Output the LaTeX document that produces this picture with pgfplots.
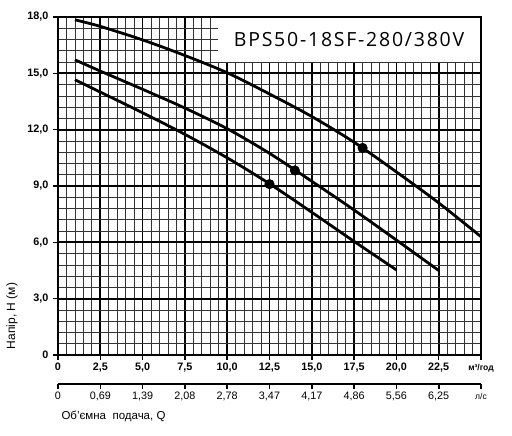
\documentclass[border=0pt]{standalone}
\usepackage{fontspec}
\setmainfont{Liberation Sans}
\newfontfamily\titlefont[LetterSpace=9]{Open Sans}
\usepackage{pgfplots}
\pgfplotsset{compat=1.18}

\begin{document}
\begin{tikzpicture}[x=1pt,y=1pt]
\useasboundingbox (0,0) rectangle (512,436);
\begin{axis}[
  at={(58pt,81pt)}, anchor=south west,
  scale only axis, width=423pt, height=338pt,
  xmin=0, xmax=25, ymin=0, ymax=18,
  xtick={0,2.5,5,7.5,10,12.5,15,17.5,20,22.5,25},
  ytick={0,3,6,9,12,15,18},
  minor xtick={0.5,1,1.5,2,3,3.5,4,4.5,5.5,6,6.5,7,8,8.5,9,9.5,10.5,11,11.5,12,13,13.5,14,14.5,15.5,16,16.5,17,18,18.5,19,19.5,20.5,21,21.5,22,23,23.5,24,24.5},
  minor ytick={0.6,1.2,1.8,2.4,3.6,4.2,4.8,5.4,6.6,7.2,7.8,8.4,9.6,10.2,10.8,11.4,12.6,13.2,13.8,14.4,15.6,16.2,16.8,17.4},
  xticklabels={0,{2,5},{5,0},{7,5},{10,0},{12,5},{15,0},{17,5},{20,0},{22,5},{\fontsize{8.5}{9}\selectfont м³/год}},
  yticklabels={0,{3,0},{6,0},{9,0},{12,0},{15,0},{18,0}},
  grid=both,
  major grid style={black, line width=1.7pt},
  minor grid style={black!80, line width=0.7pt},
  tick pos=left, tick align=outside,
  major tick length=5pt, minor tick length=0pt,
  tick style={black, line width=1.5pt},
  axis line style={black, line width=1.3pt},
  tick label style={font=\fontsize{10.8}{12}\selectfont\bfseries},
  xticklabel style={anchor=north, text height=8pt, text depth=2pt, yshift=1pt},
  yticklabel style={xshift=-1pt},
  clip=false,
]
\addplot[black, line width=2.8pt, smooth] coordinates {
  (1,17.85) (2.5,17.5) (5,16.78) (7.5,15.95) (10,15.03) (12.5,13.9)
  (15,12.7) (17.5,11.33) (20,9.75) (22.5,8.1) (25,6.3)};
\addplot[black, line width=2.8pt, smooth] coordinates {
  (1,15.72) (2.5,15.12) (5,14.15) (7.5,13.15) (10,12.05) (12.5,10.74)
  (15,9.25) (17.5,7.72) (20,6.12) (22.5,4.5)};
\addplot[black, line width=2.8pt, smooth] coordinates {
  (1,14.66) (2.5,14.0) (5,12.9) (7.5,11.75) (10,10.5) (12.5,9.12)
  (15,7.6) (17.5,6.05) (20,4.53)};
\addplot[only marks, mark=*, mark size=4.8pt, black] coordinates {
  (18,11.03) (14,9.83) (12.5,9.1)};
\fill[white] (axis cs:9.46,15.62) rectangle (axis cs:25,18);
\draw[black, line width=1.3pt] (axis cs:9.46,18) -- (axis cs:25,18) -- (axis cs:25,15.62);
\draw[black, line width=2.4pt] (axis cs:0,18) -- (axis cs:0,0) -- (axis cs:25,0);
\node[font=\titlefont\fontsize{19.5}{22}\selectfont] at (axis cs:17.2,16.79) {BPS50-18SF-280/380V};
\end{axis}
\begin{axis}[
  at={(58pt,52pt)}, anchor=south west,
  scale only axis, width=423pt, height=10pt,
  xmin=0, xmax=25, ymin=0, ymax=1,
  axis x line*=bottom, hide y axis,
  x axis line style={-, black, line width=2pt},
  xtick={0,2.5,5,7.5,10,12.5,15,17.5,20,22.5,25},
  xticklabels={0,{0,69},{1,39},{2,08},{2,78},{3,47},{4,17},{4,86},{5,56},{6,25},{\fontsize{8.5}{9}\selectfont л/с}},
  tick align=outside, major tick length=5pt,
  tick style={black, line width=1.6pt},
  tick label style={font=\fontsize{10.8}{12}\selectfont},
  xticklabel style={anchor=north, text height=8pt, text depth=2pt, yshift=1pt},
]
\end{axis}
\node[rotate=90, font=\fontsize{12}{14}\selectfont] at (12,120) {Напір, Н (м)};
\node[anchor=west, font=\fontsize{11.5}{13}\selectfont] at (58,20) {Об'ємна\ \ подача, Q};
\end{tikzpicture}
\end{document}
